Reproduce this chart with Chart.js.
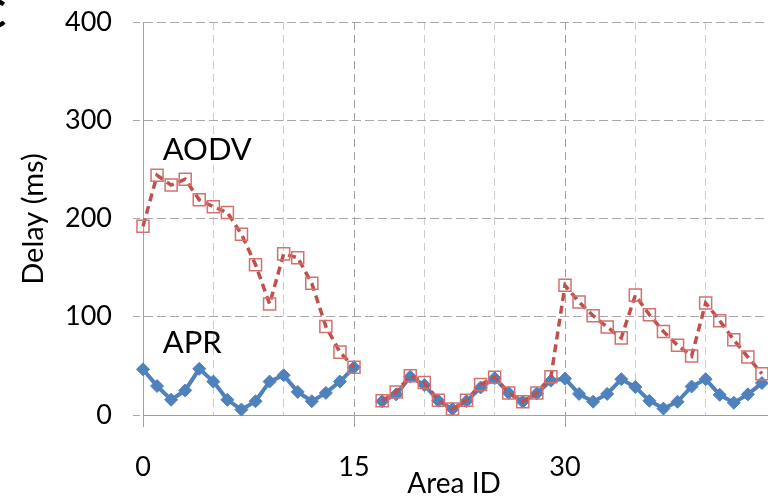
<!DOCTYPE html>
<html>
<head>
<meta charset="utf-8">
<script src="https://cdn.jsdelivr.net/npm/chart.js@4.4.1/dist/chart.umd.min.js"></script>
<style>
  html, body { margin: 0; padding: 0; overflow: hidden; background: #fff; }
  #wrap { position: absolute; left: 0; top: 0; width: 800px; height: 497px; }
</style>
</head>
<body>
<div id="wrap"><canvas id="delay-chart" width="800" height="497"></canvas></div>
<script>
const areaIds = [0, 1, 2, 3, 4, 5, 6, 7, 8, 9, 10, 11, 12, 13, 14, 15, 16, 17, 18, 19, 20, 21, 22,
    23, 24, 25, 26, 27, 28, 29, 30, 31, 32, 33, 34, 35, 36, 37, 38, 39, 40, 41, 42, 43, 44];

// delay per area in ms, area 16 has no measurement
const aodvDelay = [192, 244, 234, 240, 219, 212, 206, 184, 153, 113, 164, 160, 134, 90, 64, 48.5, null,
    14.5, 23.5, 40, 33, 15, 6, 15, 31, 38.5, 22.5, 13.5, 22.5, 39,
    132, 115, 101, 89.5, 78.5, 122, 102, 85, 71, 60, 114, 96, 76.5, 59, 42];
const aprDelay = [46.5, 29.5, 15.5, 25, 47, 34, 15.5, 5.5, 14, 34, 40.5, 23.5, 14, 22.5, 34, 48.5, null,
    14, 21, 39, 30.5, 14.5, 6, 14, 28, 37.5, 22.5, 13.5, 22, 35,
    37, 21.5, 13.5, 21.5, 36.5, 28.5, 14.5, 6.5, 13.5, 29, 36.5, 20.5, 12.5, 21, 32.5];

const xLabelTicks = [0, 15, 30];
const yTicks = [0, 100, 200, 300, 400];

// series captions, placed in data units
const seriesNotes = [
    { text: 'AODV', x: 1.4, y: 260 },
    { text: 'APR', x: 1.4, y: 63 }
];

const FONT = 'Lato';
// wanted plot box inside the 800px canvas
const PLOT = { left: 143, top: 22, right: 782, bottom: 415 };

const toPoints = values => areaIds.map((id, i) => ({ x: id, y: values[i] }));

const textPlugin = {
    id: 'chartText',
    afterDraw(chart) {
        const ctx = chart.ctx;
        const xs = chart.scales.x;
        const ys = chart.scales.y;
        ctx.save();
        ctx.fillStyle = '#000';

        ctx.font = `31px ${FONT}`;
        ctx.textAlign = 'left';
        ctx.textBaseline = 'alphabetic';
        seriesNotes.forEach(n => {
            ctx.fillText(n.text, xs.getPixelForValue(n.x), ys.getPixelForValue(n.y));
        });

        // axis titles
        ctx.font = `28px ${FONT}`;
        ctx.textAlign = 'center';
        ctx.fillText('Area ID', 454, 493);

        ctx.save();
        ctx.translate(43, 219);
        ctx.rotate(-Math.PI / 2);
        ctx.font = `29px ${FONT}`;
        ctx.fillText('Delay (ms)', 0, 0);
        ctx.restore();

        // panel letter, mostly off the left edge
        ctx.font = `bold 40px ${FONT}`;
        ctx.textAlign = 'right';
        ctx.fillText('C', 6, 28);
        ctx.restore();
    }
};

const chart = new Chart(document.getElementById('delay-chart'), {
    type: 'line',
    data: {
        datasets: [{
            label: 'AODV',
            data: toPoints(aodvDelay),
            borderColor: '#c0504d',
            borderWidth: 3.5,
            borderDash: [8, 5],
            pointStyle: 'rect',
            pointRadius: 8.5,
            pointBorderWidth: 1.5,
            pointBorderColor: '#d4706d',
            pointBackgroundColor: 'rgba(0,0,0,0)',
            spanGaps: false,
            clip: false
        }, {
            label: 'APR',
            data: toPoints(aprDelay),
            borderColor: '#4f81bd',
            borderWidth: 4,
            pointStyle: 'rectRot',
            pointRadius: 6.5,
            pointBorderWidth: 1,
            pointBorderColor: '#4f81bd',
            pointBackgroundColor: '#4f81bd',
            spanGaps: false,
            clip: false
        }]
    },
    options: {
        responsive: false,
        animation: false,
        devicePixelRatio: 1,
        layout: { padding: { top: PLOT.top, right: 18, left: 0, bottom: 0 } },
        plugins: {
            legend: { display: false },
            tooltip: { enabled: false }
        },
        scales: {
            x: {
                type: 'linear',
                min: 0,
                max: 45,
                afterFit: scale => { scale.height = 82; },
                ticks: {
                    stepSize: 5,
                    autoSkip: false,
                    maxRotation: 0,
                    padding: 24,
                    color: '#000',
                    font: { family: FONT, size: 27 },
                    callback: v => xLabelTicks.includes(v) ? v : ''
                },
                grid: {
                    color: c => (c.tick && c.tick.value % 15 === 0) ? '#a0a0a0' : '#cccccc',
                    lineWidth: 1,
                    tickLength: 12,
                    tickColor: c => (c.tick && c.tick.value % 15 === 0) ? '#a0a0a0' : 'rgba(0,0,0,0)',
                    tickBorderDash: []
                },
                border: { display: true, color: '#a0a0a0', width: 1, dash: [8, 5] }
            },
            y: {
                min: 0,
                max: 400,
                afterFit: scale => {
                    scale.width = 143;
                    // tick padding would otherwise push the plot top down
                    scale.paddingTop = 0;
                    scale.paddingBottom = 0;
                },
                afterBuildTicks: scale => { scale.ticks = yTicks.map(v => ({ value: v })); },
                ticks: {
                    padding: 21,
                    color: '#000',
                    font: { family: FONT, size: 27 }
                },
                grid: {
                    color: '#a8a8a8',
                    lineWidth: 1,
                    tickLength: 10,
                    tickColor: '#a8a8a8',
                    tickBorderDash: [7, 4]
                },
                border: { display: true, color: '#a0a0a0', width: 1, dash: [9, 4] }
            }
        }
    },
    plugins: [textPlugin]
});

// the scales add room for their end labels; take that back out of the padding
const pad = chart.options.layout.padding;
pad.top = Math.max(0, pad.top - (chart.chartArea.top - PLOT.top));
pad.right = Math.max(0, pad.right - (PLOT.right - chart.chartArea.right));
chart.update();
</script>
</body>
</html>
